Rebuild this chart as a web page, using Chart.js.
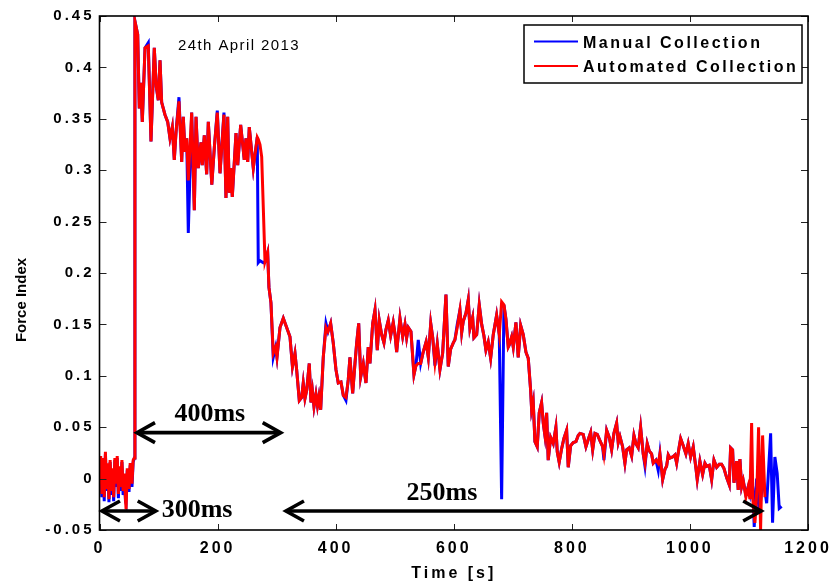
<!DOCTYPE html>
<html>
<head>
<meta charset="utf-8">
<script src="https://cdn.jsdelivr.net/npm/chart.js@4.4.1/dist/chart.umd.min.js"></script>
<style>
  html, body { margin: 0; padding: 0; background: #fff; }
  #wrap { width: 835px; height: 586px; position: relative; }
</style>
</head>
<body>
<div id="wrap"><canvas id="c" width="835" height="586"></canvas></div>
<script>
// Sample times in seconds (shared by both recordings)
const timeSec = [
  0,2,4,6,8,10,12,14,16,18,20,22,24,26,28,30,32,34,36,38,40,42,44,45,47,50,52,55,57,59,
  60,64.7,67.4,69.8,72.5,77.1,82.6,87.2,92.8,96.2,99.6,102.5,105.3,110.9,115.5,119.4,123.3,126.7,129.6,134.6,139.2,141.9,144.8,147.7,150.4,156.1,160.6,163.5,167.3,171.9,
  174.1,177.5,181.5,184.3,190.2,194.6,199.5,204.1,210.8,214.2,217.1,219.8,222.2,224.9,231.2,234.1,239.1,245.2,248.1,251.0,253.7,260.5,267.2,268.9,271.8,274.7,277.4,280.3,284.8,287.0,
  290.4,294.3,298.4,300.6,305.7,311.3,317.0,322.6,326.8,331.1,333.9,338.4,342.4,345.1,348.0,350.9,355.3,358.2,360.7,363.3,366.6,369.2,371.7,374.6,379.0,383.6,387.0,391.5,395.9,400.5,
  404.4,409.0,412.9,417.4,421.3,424.2,428.8,432.7,435.6,439.0,442.4,446.8,451.3,455.2,458.1,462.7,466.6,470.5,473.8,477.9,481.8,485.2,489.1,493.1,497.5,500.4,503.3,508.9,513.5,517.4,
  520.2,523.0,527.5,532.6,536.0,539.9,544.0,547.8,553.2,556.9,561.0,564.4,568.2,572.1,576.6,581.2,586.8,590.7,594.7,599.2,602.0,605.9,610.5,613.4,616.1,620.7,624.6,627.4,632.0,634.2,
  638.8,643.2,647.3,651.1,654.5,658.4,662.5,666.9,672.6,677.1,681.1,685.0,688.4,692.3,694.0,698.1,700.8,705.3,709.2,713.3,717.7,722.3,726.2,730.2,731.9,734.6,737.5,741.4,744.8,748.8,
  751.6,754.4,757.3,760.0,764.1,768.5,773.0,775.3,778.6,782.7,786.6,791.2,793.9,798.0,802.4,807.0,810.8,813.7,819.3,823.9,827.8,831.9,835.3,839.2,843.1,847.6,852.2,854.4,859.0,863.4,
  867.4,871.3,875.9,878.6,881.5,886.0,889.9,892.8,897.2,901.3,905.2,908.6,912.4,916.5,920.9,923.9,927.7,931.1,935.1,937.9,942.5,946.3,949.2,953.8,957.7,960.5,963.3,966.1,970.7,974.6,
  977.5,981.9,984.3,988.7,993.2,997.1,1001.2,1005.6,1010.2,1012.4,1016.9,1021.5,1025.4,1028.3,1032.7,1036.8,1040.7,1045.3,1049.7,1053.7,1057.6,1062.2,1066.6,1068.9,1072.3,1074.6,1079.1,1081.8,1084.7,1087.6,
  1090.3,1094.8,1098.7,1101.6,1104.5,1106.7,1108.9,1110.1,1113.0,1113.5,1116.3,1117.4,1119.7,1123.1,1124.0,1127.0,1130.0,1136.7,1140.0,1143.9,1147.8,1151.3,1155.3
];

// Force index, manual collection
const manualIndex = [
  0.003,0.020,-0.018,0.018,-0.022,0.024,-0.012,0.013,-0.023,0.016,-0.016,0.008,-0.022,0.018,-0.008,0.020,-0.019,0.010,-0.012,0.016,-0.016,0.003,-0.022,-0.024,0.008,-0.013,0.013,-0.008,0.016,0.020,
  0.445,0.432,0.360,0.385,0.347,0.419,0.424,0.328,0.419,0.381,0.368,0.407,0.366,0.354,0.347,0.331,0.342,0.310,0.337,0.371,0.308,0.352,0.318,0.331,0.239,0.356,0.261,0.352,0.302,0.327,
  0.305,0.334,0.296,0.347,0.286,0.323,0.358,0.297,0.356,0.273,0.352,0.278,0.302,0.274,0.336,0.305,0.344,0.310,0.331,0.308,0.342,0.302,0.332,0.210,0.212,0.211,0.210,0.211,0.220,0.186,
  0.171,0.118,0.128,0.118,0.147,0.156,0.147,0.138,0.109,0.122,0.106,0.076,0.079,0.093,0.078,0.086,0.112,0.074,0.085,0.070,0.082,0.071,0.080,0.067,0.118,0.151,0.143,0.151,0.132,0.106,
  0.093,0.094,0.081,0.076,0.096,0.118,0.083,0.112,0.132,0.151,0.099,0.112,0.093,0.128,0.112,0.151,0.164,0.125,0.154,0.140,0.132,0.145,0.154,0.139,0.152,0.141,0.123,0.156,0.138,0.150,
  0.137,0.147,0.143,0.101,0.110,0.135,0.112,0.122,0.133,0.118,0.151,0.137,0.110,0.131,0.106,0.122,0.179,0.109,0.126,0.132,0.135,0.150,0.164,0.142,0.153,0.161,0.174,0.146,0.157,0.137,
  0.140,0.169,0.150,0.139,0.125,0.133,0.117,0.140,0.159,0.140,-0.020,0.169,0.155,0.128,0.130,0.138,0.128,0.152,0.118,0.149,0.140,0.123,0.117,0.086,0.067,0.075,0.036,0.031,0.064,0.074,
  0.054,0.042,0.064,0.018,0.040,0.034,0.050,0.026,0.016,0.029,0.039,0.047,0.011,0.032,0.035,0.036,0.042,0.044,0.043,0.031,0.038,0.045,0.028,0.044,0.043,0.037,0.031,0.018,0.047,0.040,
  0.028,0.044,0.054,0.035,0.041,0.031,0.015,0.028,0.030,0.022,0.042,0.034,0.030,0.050,0.024,0.012,0.034,0.027,0.024,0.015,0.018,0.008,0.024,-0.001,0.009,0.012,0.023,0.020,0.021,0.023,
  0.015,0.031,0.039,0.032,0.024,0.034,0.021,0.031,0.010,-0.001,0.017,0.004,0.015,0.012,0.013,-0.001,0.018,0.011,0.014,0.014,0.010,0.001,-0.006,0.030,0.028,-0.004,0.017,-0.011,0.019,-0.008,
  -0.002,-0.016,-0.008,-0.015,0.000,-0.010,-0.047,null,0.000,null,null,-0.033,null,null,0.000,null,-0.024,0.044,-0.043,0.021,0.005,-0.029,-0.027
];

// Force index, automated collection
const automatedIndex = [
  0.005,0.022,-0.015,0.020,-0.018,0.026,-0.010,0.015,-0.020,0.018,-0.012,0.010,-0.018,0.020,-0.005,0.022,-0.015,0.012,-0.008,0.018,-0.012,0.005,-0.020,-0.030,0.010,-0.010,0.015,-0.005,0.018,0.020,
  0.445,0.432,0.360,0.385,0.347,0.419,0.421,0.328,0.419,0.381,0.368,0.407,0.366,0.354,0.347,0.331,0.342,0.310,0.337,0.367,0.308,0.352,0.318,0.331,0.290,0.356,0.261,0.352,0.302,0.327,
  0.305,0.334,0.296,0.347,0.286,0.323,0.356,0.297,0.354,0.273,0.352,0.278,0.302,0.274,0.336,0.305,0.344,0.310,0.331,0.308,0.342,0.302,0.332,0.330,0.325,0.313,0.264,0.211,0.220,0.186,
  0.171,0.122,0.128,0.118,0.147,0.156,0.147,0.138,0.109,0.122,0.106,0.076,0.079,0.093,0.078,0.086,0.112,0.074,0.085,0.070,0.082,0.071,0.080,0.067,0.118,0.147,0.143,0.151,0.132,0.106,
  0.093,0.094,0.081,0.079,0.096,0.118,0.083,0.112,0.132,0.151,0.099,0.112,0.093,0.128,0.112,0.151,0.164,0.125,0.154,0.140,0.132,0.145,0.154,0.139,0.152,0.141,0.123,0.156,0.138,0.150,
  0.137,0.147,0.143,0.101,0.110,0.112,0.112,0.122,0.133,0.118,0.151,0.137,0.113,0.131,0.106,0.122,0.179,0.109,0.126,0.132,0.135,0.147,0.164,0.142,0.153,0.161,0.174,0.146,0.157,0.137,
  0.140,0.169,0.150,0.139,0.125,0.133,0.117,0.140,0.159,0.140,0.172,0.169,0.155,0.128,0.130,0.138,0.128,0.152,0.118,0.149,0.140,0.123,0.117,0.086,0.067,0.075,0.036,0.031,0.064,0.074,
  0.054,0.042,0.064,0.018,0.040,0.034,0.050,0.026,0.016,0.029,0.039,0.047,0.011,0.032,0.035,0.036,0.042,0.044,0.043,0.031,0.038,0.045,0.028,0.044,0.043,0.037,0.031,0.023,0.047,0.040,
  0.028,0.044,0.054,0.035,0.041,0.031,0.015,0.028,0.030,0.022,0.042,0.034,0.030,0.050,0.024,0.015,0.034,0.027,0.024,0.015,0.018,0.015,0.024,-0.001,0.009,0.012,0.023,0.020,0.021,0.023,
  0.015,0.031,0.039,0.032,0.024,0.034,0.021,0.031,0.010,-0.001,0.017,0.004,0.015,0.012,0.013,-0.001,0.018,0.011,0.014,0.014,0.010,0.001,-0.006,0.030,0.028,-0.004,0.017,-0.011,0.019,-0.008,
  -0.002,-0.018,-0.008,-0.020,0.054,-0.020,null,-0.043,null,-0.010,0.050,null,-0.050,0.042,null,-0.018,null,null,null,null,null,null,null
];

const seriesNames = ['Manual Collection', 'Automated Collection'];
const seriesColors = ['#0000ff', '#ff0000'];

const xTicks = [0, 200, 400, 600, 800, 1000, 1200];
const xTickLabels = ['0', '200', '400', '600', '800', '1000', '1200'];
const yTicks = [-0.05, 0, 0.05, 0.1, 0.15, 0.2, 0.25, 0.3, 0.35, 0.4, 0.45];
const yTickLabels = ['-0.05', '0', '0.05', '0.1', '0.15', '0.2', '0.25', '0.3', '0.35', '0.4', '0.45'];

const xTitle = 'Time [s]';
const yTitle = 'Force Index';
const dateNote = '24th April 2013';

// Interval markers: duration label, start/end time (s), force level of the arrow
const spanLabels = ['400ms', '300ms', '250ms'];
const spanStart = [61.8, 2.5, 314.1];
const spanEnd = [308.6, 96.9, 1122.4];
const spanLevel = [0.0447, -0.0315, -0.0315];

const SANS = '"Liberation Sans", Arial, Helvetica, sans-serif';
const SERIF = '"Liberation Serif", "Times New Roman", serif';

function drawArrow(ctx, x1, x2, y) {
  ctx.beginPath();
  ctx.moveTo(x1 + 2, y);
  ctx.lineTo(x2 - 2, y);
  ctx.stroke();
  ctx.beginPath();
  ctx.moveTo(x1 + 19, y - 10);
  ctx.lineTo(x1 + 1, y);
  ctx.lineTo(x1 + 19, y + 10);
  ctx.moveTo(x2 - 19, y - 10);
  ctx.lineTo(x2 - 1, y);
  ctx.lineTo(x2 - 19, y + 10);
  ctx.stroke();
}

const framePlugin = {
  id: 'framePlugin',
  beforeDraw(chart) {
    // widened axis lettering
    chart.ctx.letterSpacing = '3px';
  },
  beforeDatasetsDraw(chart) {
    chart.ctx.letterSpacing = '0px';
  },
  afterDraw(chart) {
    const { ctx, chartArea: a, scales: { x, y } } = chart;
    ctx.save();
    ctx.letterSpacing = '0px';

    // inward tick marks on all four sides
    ctx.strokeStyle = '#222';
    ctx.lineWidth = 1;
    ctx.beginPath();
    xTicks.forEach(v => {
      const px = Math.round(x.getPixelForValue(v)) + 0.5;
      ctx.moveTo(px, a.bottom); ctx.lineTo(px, a.bottom - 6);
      ctx.moveTo(px, a.top); ctx.lineTo(px, a.top + 6);
    });
    yTicks.forEach(v => {
      const py = Math.round(y.getPixelForValue(v)) + 0.5;
      ctx.moveTo(a.left, py); ctx.lineTo(a.left + 7, py);
      ctx.moveTo(a.right, py); ctx.lineTo(a.right - 7, py);
    });
    ctx.stroke();

    // axes box
    ctx.strokeStyle = '#000';
    ctx.lineWidth = 1.6;
    ctx.strokeRect(a.left, a.top, a.right - a.left, a.bottom - a.top);

    // date note
    ctx.fillStyle = '#000';
    ctx.font = '15px ' + SANS;
    ctx.letterSpacing = '1.4px';
    ctx.textAlign = 'left';
    ctx.textBaseline = 'alphabetic';
    ctx.fillText(dateNote, x.getPixelForValue(133), y.getPixelForValue(0.417));
    ctx.letterSpacing = '0px';

    // interval arrows and their labels
    ctx.strokeStyle = '#000';
    ctx.lineWidth = 3.6;
    ctx.lineCap = 'butt';
    ctx.lineJoin = 'miter';
    ctx.font = 'bold 26px ' + SERIF;
    spanLabels.forEach((lab, i) => {
      const x1 = x.getPixelForValue(spanStart[i]);
      const x2 = x.getPixelForValue(spanEnd[i]);
      const py = y.getPixelForValue(spanLevel[i]);
      drawArrow(ctx, x1, x2, py);
      if (i === 0) {
        ctx.textAlign = 'center';
        ctx.fillText(lab, (x1 + x2) / 2 + 1, py - 12);
      } else if (i === 1) {
        ctx.textAlign = 'left';
        ctx.fillText(lab, x2 + 5, py + 6);
      } else {
        ctx.textAlign = 'center';
        ctx.fillText(lab, x.getPixelForValue(580), py - 11);
      }
    });

    // legend
    const bw = 278, bh = 58;
    const bx = a.right - 6 - bw, by = a.top + 9;
    ctx.fillStyle = '#fff';
    ctx.fillRect(bx, by, bw, bh);
    ctx.strokeStyle = '#000';
    ctx.lineWidth = 1.5;
    ctx.strokeRect(bx, by, bw, bh);
    ctx.font = 'bold 16px ' + SANS;
    ctx.letterSpacing = '2.5px';
    ctx.textAlign = 'left';
    ctx.textBaseline = 'alphabetic';
    chart.data.datasets.forEach((ds, i) => {
      const ly = by + 16.5 + i * 24.5;
      ctx.strokeStyle = ds.borderColor;
      ctx.lineWidth = 2;
      ctx.beginPath();
      ctx.moveTo(bx + 10, ly);
      ctx.lineTo(bx + 54, ly);
      ctx.stroke();
      ctx.fillStyle = '#000';
      ctx.fillText(ds.label, bx + 59, ly + 6);
    });
    ctx.letterSpacing = '0px';

    // y axis title
    ctx.save();
    ctx.translate(22, 300);
    ctx.rotate(-Math.PI / 2);
    ctx.font = 'bold 15px ' + SANS;
    ctx.textAlign = 'center';
    ctx.textBaseline = 'middle';
    ctx.fillStyle = '#000';
    ctx.fillText(yTitle, 0, 0);
    ctx.restore();

    ctx.restore();
  }
};

const toPoints = vals => timeSec.map((t, i) => ({ x: t, y: vals[i] }));

new Chart(document.getElementById('c'), {
  type: 'line',
  data: {
    datasets: [
      {
        label: seriesNames[0],
        data: toPoints(manualIndex),
        borderColor: seriesColors[0],
        borderWidth: 3,
        pointRadius: 0,
        tension: 0,
        spanGaps: true,
        order: 2
      },
      {
        label: seriesNames[1],
        data: toPoints(automatedIndex),
        borderColor: seriesColors[1],
        borderWidth: 3,
        pointRadius: 0,
        tension: 0,
        spanGaps: true,
        order: 1
      }
    ]
  },
  options: {
    responsive: false,
    animation: false,
    devicePixelRatio: 1,
    layout: { padding: { left: 0, right: 27, top: 16, bottom: 0 } },
    plugins: {
      legend: { display: false },
      tooltip: { enabled: false }
    },
    scales: {
      x: {
        type: 'linear',
        min: 0,
        max: 1200,
        afterBuildTicks: s => { s.ticks = xTicks.map(v => ({ value: v })); },
        afterFit: s => { s.height = 56; },
        ticks: {
          autoSkip: false,
          maxRotation: 0,
          padding: 9,
          color: '#000',
          font: { family: SANS, weight: 'bold', size: 16 },
          callback: v => xTickLabels[xTicks.indexOf(v)]
        },
        grid: { display: false, drawTicks: false },
        border: { display: false },
        title: {
          display: true,
          text: xTitle,
          color: '#000',
          font: { family: SANS, weight: 'bold', size: 16 },
          padding: { top: 0, bottom: 3 }
        }
      },
      y: {
        type: 'linear',
        min: -0.05,
        max: 0.45,
        afterBuildTicks: s => { s.ticks = yTicks.map(v => ({ value: v })); },
        afterFit: s => { s.width = 99.5; },
        ticks: {
          autoSkip: false,
          padding: 5,
          color: '#000',
          font: { family: SANS, weight: 'bold', size: 15 },
          callback: v => yTickLabels[yTicks.findIndex(t => Math.abs(t - v) < 1e-9)]
        },
        grid: { display: false, drawTicks: false },
        border: { display: false },
        title: { display: false }
      }
    }
  },
  plugins: [framePlugin]
});
</script>
</body>
</html>
